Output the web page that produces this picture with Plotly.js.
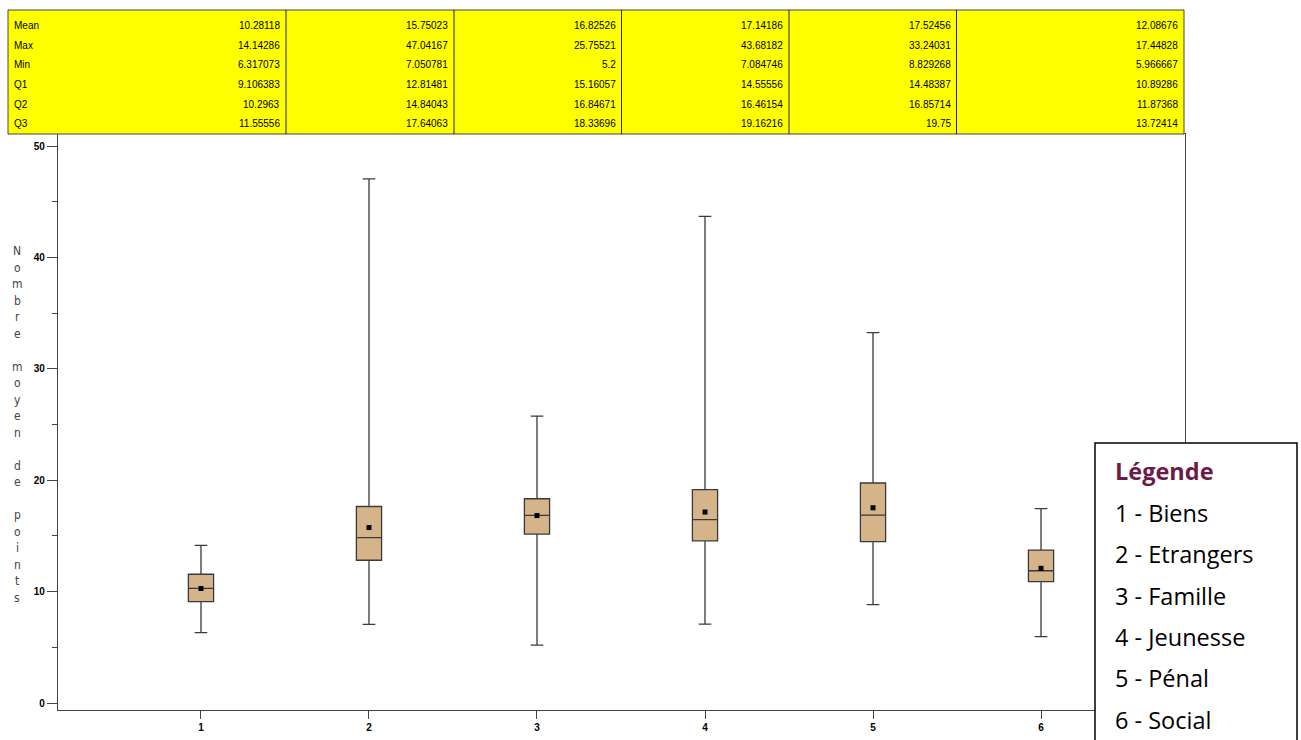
<!DOCTYPE html>
<html>
<head>
<meta charset="utf-8">
<script src="https://cdn.plot.ly/plotly-3.0.1.min.js"></script>
<style>html,body{margin:0;padding:0;background:#fff;}#chart{width:1301px;height:740px;}</style>
</head>
<body>
<div id="chart"></div>
<script>
// ---- data ----
const categories = ['1', '2', '3', '4', '5', '6'];
const legendLabels = ['Biens', 'Etrangers', 'Famille', 'Jeunesse', 'Pénal', 'Social'];
const statLabels = ['Mean', 'Max', 'Min', 'Q1', 'Q2', 'Q3'];
const meanVals = [10.28118, 15.75023, 16.82526, 17.14186, 17.52456, 12.08676];
const maxVals  = [14.14286, 47.04167, 25.75521, 43.68182, 33.24031, 17.44828];
const minVals  = [6.317073, 7.050781, 5.2, 7.084746, 8.829268, 5.966667];
const q1Vals   = [9.106383, 12.81481, 15.16057, 14.55556, 14.48387, 10.89286];
const q2Vals   = [10.2963, 14.84043, 16.84671, 16.46154, 16.85714, 11.87368];
const q3Vals   = [11.55556, 17.64063, 18.33696, 19.16216, 19.75, 13.72414];
const yTitle = 'Nombre moyen de points';
const legendTitle = 'Légende';

// ---- layout helpers (pixel -> paper) ----
const W = 1301, H = 740;
const PL = 58, PR = 1185, PT = 134, PB = 710;
const px = v => (v - PL) / (PR - PL);
const py = v => (PB - v) / (PB - PT);

const xs = categories.map(Number);

const traces = [
  {
    type: 'box',
    x: xs,
    q1: q1Vals, median: q2Vals, q3: q3Vals,
    lowerfence: minVals, upperfence: maxVals,
    width: 0.15,
    whiskerwidth: 0.5,
    fillcolor: '#D5B48A',
    line: {color: '#3a3a3a', width: 1.3},
    boxpoints: false,
    hoverinfo: 'skip'
  },
  {
    type: 'scatter', mode: 'markers',
    x: xs, y: meanVals,
    marker: {symbol: 'square', size: 5, color: '#000'},
    hoverinfo: 'skip'
  }
];

const shapes = [];
const annotations = [];

// Stats table
const colEdges = [8, 286, 454, 621.5, 789, 956.5, 1184];
const tTop = 10, tBot = 134;
shapes.push({type: 'rect', xref: 'paper', yref: 'paper', x0: px(colEdges[0]), x1: px(colEdges[6]),
  y0: py(tBot), y1: py(tTop), fillcolor: '#FFFF00', line: {color: '#444', width: 1}, layer: 'above'});
for (let c = 1; c < 6; c++) {
  shapes.push({type: 'line', xref: 'paper', yref: 'paper', x0: px(colEdges[c]), x1: px(colEdges[c]),
    y0: py(tBot), y1: py(tTop), line: {color: '#222', width: 1}, layer: 'above'});
}
const statRows = [meanVals, maxVals, minVals, q1Vals, q2Vals, q3Vals];
const tFont = {family: 'Liberation Sans, Arial, sans-serif', size: 10, color: '#000'};
statLabels.forEach((lab, r) => {
  const yc = 25.5 + r * 19.7;
  annotations.push({xref: 'paper', yref: 'paper', x: px(12), y: py(yc), text: lab,
    xanchor: 'left', yanchor: 'middle', showarrow: false, font: tFont});
  statRows[r].forEach((v, c) => {
    annotations.push({xref: 'paper', yref: 'paper', x: px(colEdges[c + 1] - 4), y: py(yc), text: String(v),
      xanchor: 'right', yanchor: 'middle', showarrow: false, font: tFont});
  });
});

// Stacked vertical y-axis title
const slots = [];
yTitle.split(' ').forEach((w, i) => { if (i > 0) slots.push(''); w.split('').forEach(ch => slots.push(ch)); });
const yStart = 251, yEnd = 598;
const step = (yEnd - yStart) / (slots.length - 1);
slots.forEach((ch, i) => {
  if (!ch) return;
  annotations.push({xref: 'paper', yref: 'paper', x: px(17), y: py(yStart + i * step), text: ch,
    xanchor: 'center', yanchor: 'middle', showarrow: false,
    font: {family: 'Liberation Sans Narrow, DejaVu Sans Condensed, Liberation Sans, sans-serif', size: 12, color: '#444'}});
});

// Legend box
shapes.push({type: 'rect', xref: 'paper', yref: 'paper', x0: px(1095), x1: px(1297),
  y0: py(760), y1: py(443), fillcolor: '#fff', line: {color: '#000', width: 1.5}, layer: 'above'});
const lgFont = {family: 'Open Sans, Noto Sans, sans-serif', size: 23.5, color: '#000'};
annotations.push({xref: 'paper', yref: 'paper', x: px(1113), y: py(471), text: legendTitle,
  xanchor: 'left', yanchor: 'middle', showarrow: false,
  font: {family: 'Open Sans, Noto Sans, sans-serif', size: 23.5, color: '#6E1A48', weight: 'bold'}});
legendLabels.forEach((lab, i) => {
  annotations.push({xref: 'paper', yref: 'paper', x: px(1113), y: py(513 + i * 41.3),
    text: categories[i] + ' - ' + lab, xanchor: 'left', yanchor: 'middle', showarrow: false, font: lgFont});
});

const tickFont = {family: 'Liberation Sans, Arial, sans-serif', size: 10, color: '#000', weight: 'bold'};
const layout = {
  width: W, height: H,
  margin: {l: PL, r: W - PR, t: PT, b: H - PB},
  paper_bgcolor: '#fff', plot_bgcolor: '#fff',
  showlegend: false,
  xaxis: {
    range: [0.149, 6.857], tickvals: xs, ticktext: categories,
    ticks: 'outside', ticklen: 8, tickcolor: '#444', tickwidth: 1,
    showline: true, linecolor: '#444', linewidth: 1.2, mirror: true,
    showgrid: false, zeroline: false, tickfont: tickFont
  },
  yaxis: {
    range: [-0.628, 51.077], tickvals: [0, 10, 20, 30, 40, 50],
    ticks: 'outside', ticklen: 10, tickcolor: '#444', tickwidth: 1,
    minor: {tickvals: [5, 15, 25, 35, 45], ticks: 'outside', ticklen: 5, tickcolor: '#444', showgrid: false},
    showline: true, linecolor: '#444', linewidth: 1.2, mirror: true,
    showgrid: false, zeroline: false, tickfont: tickFont
  },
  shapes: shapes,
  annotations: annotations
};

Plotly.newPlot('chart', traces, layout, {displayModeBar: false, staticPlot: true});
</script>
</body>
</html>
